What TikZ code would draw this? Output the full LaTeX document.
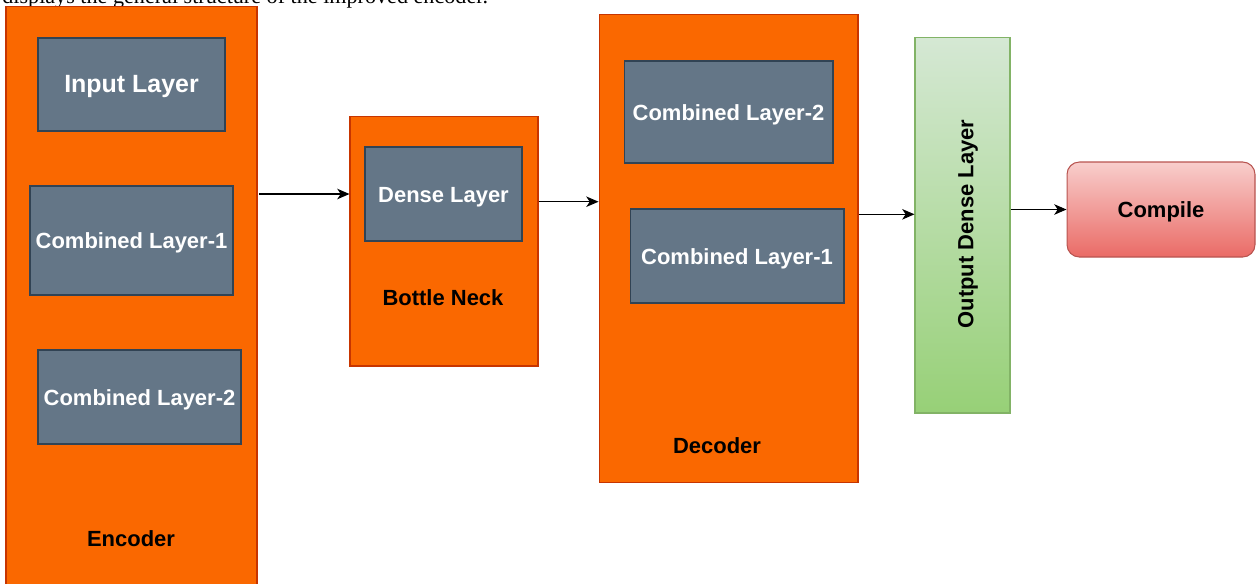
\documentclass[tikz,border=0pt]{standalone}
\usepackage{fontspec}
\setmainfont{Liberation Sans}
\newfontfamily\capfont{Liberation Serif}
\usetikzlibrary{arrows.meta}

\definecolor{orangefill}{HTML}{FA6800}
\definecolor{orangeline}{HTML}{C73500}
\definecolor{slatefill}{HTML}{647687}
\definecolor{slateline}{HTML}{314354}
\definecolor{greentop}{HTML}{D5E8D4}
\definecolor{greenbot}{HTML}{97D077}
\definecolor{greenline}{HTML}{82B366}
\definecolor{redtop}{HTML}{F8CECC}
\definecolor{redbot}{HTML}{EA6B66}
\definecolor{redline}{HTML}{B85450}

\tikzset{
  captext/.style={text height=0.95em, text depth=0pt},
  block/.style={rectangle, inner sep=0pt, line width=0.6pt,
    draw=orangeline, fill=orangefill},
  layer/.style={rectangle, inner sep=0pt, line width=0.6pt,
    draw=slateline, fill=slatefill, text=white, captext,
    font=\fontsize{12.5}{15}\selectfont\bfseries},
  tag/.style={inner sep=0pt, text=black, captext,
    font=\fontsize{12.5}{15}\selectfont\bfseries},
  outlayer/.style={rectangle, inner sep=0pt, line width=0.6pt,
    draw=greenline, top color=greentop, bottom color=greenbot},
  finalbox/.style={rectangle, rounded corners=7pt, inner sep=0pt,
    line width=0.6pt, draw=redline, top color=redtop, bottom color=redbot,
    captext, font=\fontsize{12.5}{15}\selectfont\bfseries},
  arr/.style={line width=0.6pt, black,
    -{Stealth[length=7pt,width=6pt,inset=2pt]}}
}

\begin{document}
\begin{tikzpicture}[x=0.02cm, y=-0.02cm]
  \useasboundingbox (0,0) rectangle (1256,583);
  \clip (0,0) rectangle (1256,583);

  % caption line above the figure
  \node[anchor=base west, inner sep=0pt,
        font=\capfont\fontsize{12.6}{15}\selectfont] (cap) at (2,3)
    {displays the general structure of the improved encoder.};

  % encoder
  \node[block, minimum width=5.02cm, minimum height=11.88cm] (enc) at (131.5,303) {};
  \node[layer, minimum width=3.74cm, minimum height=1.86cm,
        font=\fontsize{14.2}{17}\selectfont\bfseries] (inp) at (131.5,84.5) {Input Layer};
  \node[layer, minimum width=4.06cm, minimum height=2.18cm] (ecl1) at (131.5,240.5) {Combined Layer-1};
  \node[layer, minimum width=4.06cm, minimum height=1.88cm] (ecl2) at (139.5,397) {Combined Layer-2};
  \node[tag] (enclab) at (131,538) {Encoder};

  % bottleneck
  \node[block, minimum width=3.76cm, minimum height=5.0cm] (bn) at (444,241) {};
  \node[layer, minimum width=3.14cm, minimum height=1.88cm] (dense) at (443.5,194) {Dense Layer};
  \node[tag] (bnlab) at (443,297) {Bottle Neck};

  % decoder
  \node[block, minimum width=5.18cm, minimum height=9.38cm] (dec) at (728.5,248.5) {};
  \node[layer, minimum width=4.18cm, minimum height=2.04cm] (dcl2) at (728.5,112) {Combined Layer-2};
  \node[layer, minimum width=4.28cm, minimum height=1.88cm] (dcl1) at (737,256) {Combined Layer-1};
  \node[tag] (declab) at (717,445) {Decoder};

  % output layer and compile step
  \node[outlayer, minimum width=1.9cm, minimum height=7.52cm] (out) at (962.5,225) {};
  \node[rotate=90, inner sep=0pt, captext, font=\fontsize{12.5}{15}\selectfont\bfseries]
    (outlab) at (965,224) {Output Dense Layer};
  \node[finalbox, minimum width=3.76cm, minimum height=1.9cm] (comp) at (1161,209.5) {Compile};

  % connectors
  \draw[arr] ([xshift=1pt]enc.east |- dense.west) -- (bn.west |- dense.west);
  \draw[arr] (bn.east |- 0,201.7) -- (dec.west |- 0,201.7);
  \draw[arr] (dec.east |- 0,214.3) -- (out.west |- 0,214.3);
  \draw[arr] (out.east |- comp.west) -- (comp.west);
\end{tikzpicture}
\end{document}
